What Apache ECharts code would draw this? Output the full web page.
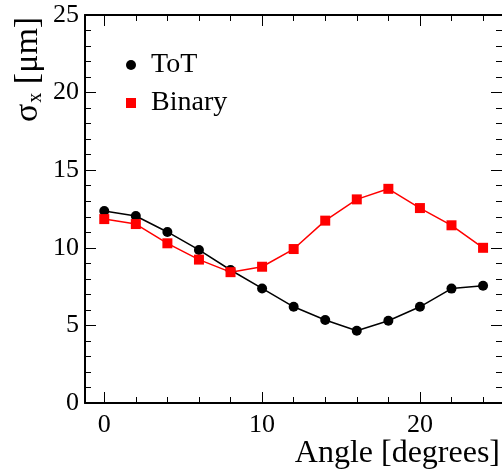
<!DOCTYPE html>
<html>
<head>
<meta charset="utf-8">
<script src="https://cdn.jsdelivr.net/npm/echarts@6/dist/echarts.min.js"></script>
<style>
  html, body { margin: 0; padding: 0; background: #fff; }
  #chart { width: 502px; height: 472px; }
</style>
</head>
<body>
<div id="chart"></div>
<script>
// data
const angles = [0, 2, 4, 6, 8, 10, 12, 14, 16, 18, 20, 22, 24];
const tot = [12.37, 12.05, 11.02, 9.86, 8.57, 7.38, 6.2, 5.35, 4.66, 5.3, 6.2, 7.37, 7.56];
const binary = [11.85, 11.53, 10.29, 9.24, 8.43, 8.78, 9.92, 11.75, 13.12, 13.8, 12.56, 11.45, 10.0];
const xMajor = [0, 10, 20];
const xMinor = [0, 2, 4, 6, 8, 10, 12, 14, 16, 18, 20, 22, 24];

const serif = "Liberation Serif";
const chart = echarts.init(document.getElementById("chart"));

const xBase = {
  type: "value",
  min: -1.22,
  max: 25.2,
  splitLine: { show: false },
};
const yBase = {
  type: "value",
  min: 0,
  max: 25,
  interval: 5,
  splitLine: { show: false },
  axisTick: { inside: true, length: 11, lineStyle: { color: "#000", width: 1 } },
  minorTick: { show: true, splitNumber: 5, length: 6, lineStyle: { color: "#000", width: 1 } },
};
const frameLine = { show: true, onZero: false, lineStyle: { color: "#000", width: 2 } };
const noLine = { show: false, onZero: false };

let option = {
  animation: false,
  grid: { left: 85, right: 0, top: 15, bottom: 69 },
  xAxis: [
    {
      ...xBase,
      position: "bottom",
      axisLine: frameLine,
      axisTick: { show: true, inside: true, length: 11, customValues: xMajor, lineStyle: { color: "#000" } },
      axisLabel: { customValues: xMajor, margin: 9, color: "#000", fontFamily: serif, fontSize: 26 },
    },
    {
      ...xBase,
      position: "bottom",
      axisLine: noLine,
      axisTick: { show: true, inside: true, length: 6, customValues: xMinor, lineStyle: { color: "#000" } },
      axisLabel: { show: false },
    },
    {
      ...xBase,
      position: "top",
      axisLine: frameLine,
      axisTick: { show: true, inside: true, length: 11, customValues: xMajor, lineStyle: { color: "#000" } },
      axisLabel: { show: false },
    },
    {
      ...xBase,
      position: "top",
      axisLine: noLine,
      axisTick: { show: true, inside: true, length: 6, customValues: xMinor, lineStyle: { color: "#000" } },
      axisLabel: { show: false },
    },
  ],
  yAxis: [
    {
      ...yBase,
      position: "left",
      axisLine: frameLine,
      axisLabel: { margin: 6, color: "#000", fontFamily: serif, fontSize: 26 },
    },
    {
      ...yBase,
      position: "right",
      axisLine: noLine, // frame edge falls just outside the picture
      axisLabel: { show: false },
    },
  ],
  legend: {
    orient: "vertical",
    left: 121,
    top: 45,
    itemWidth: 10,
    itemHeight: 10,
    itemGap: 8,
    textStyle: { fontFamily: serif, fontSize: 28, color: "#000", lineHeight: 30, padding: [0, 0, 0, 10] },
    data: [
      { name: "ToT", icon: "circle" },
      { name: "Binary", icon: "rect" },
    ],
  },
  graphic: [
    {
      type: "text",
      right: 2,
      top: 438,
      style: { text: "Angle [degrees]", font: "32px " + serif, fill: "#000" },
    },
    {
      type: "text",
      x: 10,
      y: 122,
      rotation: Math.PI / 2,
      style: {
        text: "{a|σ}{b|x}{a| [μm]}",
        fill: "#000",
        rich: {
          a: { fontFamily: serif, fontSize: 34, lineHeight: 36 },
          b: { fontFamily: serif, fontSize: 20, verticalAlign: "bottom", lineHeight: 36, padding: [0, 0, 0, 1] },
        },
      },
    },
  ],
  series: [
    {
      name: "ToT",
      type: "line",
      data: angles.map((a, i) => [a, tot[i]]),
      symbol: "circle",
      symbolSize: 10,
      itemStyle: { color: "#000" },
      lineStyle: { color: "#000", width: 1.5 },
    },
    {
      name: "Binary",
      type: "line",
      data: angles.map((a, i) => [a, binary[i]]),
      symbol: "rect",
      symbolSize: 10,
      itemStyle: { color: "#ff0000" },
      lineStyle: { color: "#ff0000", width: 1.5 },
    },
  ],
};
option && chart.setOption(option);
</script>
</body>
</html>
